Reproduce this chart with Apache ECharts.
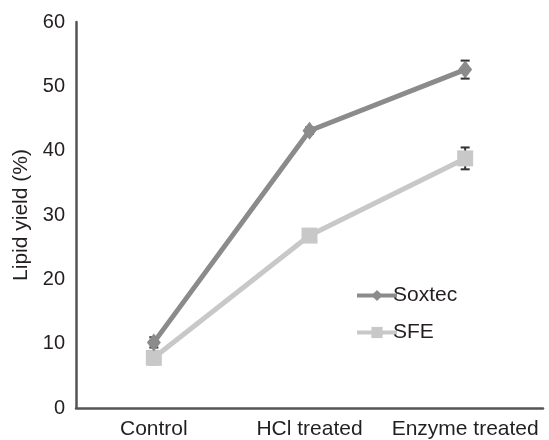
<!DOCTYPE html>
<html>
<head>
<meta charset="utf-8">
<script src="https://cdn.jsdelivr.net/npm/echarts@6/dist/echarts.min.js"></script>
<style>
  html, body { margin: 0; padding: 0; background: #ffffff; }
  #chart { width: 549px; height: 440px; }
</style>
</head>
<body>
<div id="chart"></div>
<script>
// Treatments along the x axis
const categories = ['Control', 'HCl treated', 'Enzyme treated'];
// Lipid yield (%) per extraction method, with error half-widths
const soxtec = [10.2, 43.1, 52.6];
const soxtecErr = [0.8, 0.5, 1.4];
const sfe = [7.8, 26.8, 38.8];
const sfeErr = [1.0, 0.8, 1.7];
const yTicks = [0, 10, 20, 30, 40, 50, 60];

const font = "'Liberation Sans', Arial, Helvetica, sans-serif";
const textColor = '#231f20';

function errData(vals, errs) { return vals.map((v, i) => [i, v - errs[i], v + errs[i]]); }

// Vertical error bar with short caps at both ends
function renderErr(params, api) {
  const x = api.value(0);
  const lo = api.coord([x, api.value(1)]);
  const hi = api.coord([x, api.value(2)]);
  const half = 4.5;
  const style = { stroke: '#333333', lineWidth: 2 };
  return {
    type: 'group',
    children: [
      { type: 'line', shape: { x1: lo[0], y1: lo[1], x2: hi[0], y2: hi[1] }, style: style },
      { type: 'line', shape: { x1: lo[0] - half, y1: lo[1], x2: lo[0] + half, y2: lo[1] }, style: style },
      { type: 'line', shape: { x1: hi[0] - half, y1: hi[1], x2: hi[0] + half, y2: hi[1] }, style: style }
    ]
  };
}

const chart = echarts.init(document.getElementById('chart'), null, { renderer: 'canvas' });
chart.setOption({
  animation: false,
  backgroundColor: '#ffffff',
  grid: { left: 76, right: 6, top: 22, bottom: 32, containLabel: false },
  legend: {
    orient: 'vertical',
    left: 350,
    top: 280,
    itemWidth: 40,
    itemHeight: 14,
    itemGap: 16,
    lineStyle: { width: 4 },
    textStyle: { fontFamily: font, fontSize: 21, color: textColor, padding: [0, 0, 0, -9] },
    data: ['Soxtec', 'SFE']
  },
  xAxis: {
    type: 'category',
    data: categories,
    boundaryGap: true,
    splitLine: { show: false },
    axisLine: { show: true, onZero: false, lineStyle: { color: '#555555', width: 2.5 } },
    axisTick: { show: false },
    axisLabel: {
      margin: 11,
      interval: 0,
      fontFamily: font,
      fontSize: 21,
      color: textColor
    }
  },
  yAxis: {
    type: 'value',
    min: 0,
    max: 60,
    interval: 10,
    name: 'Lipid yield (%)',
    nameLocation: 'middle',
    nameGap: 44,
    nameTextStyle: { fontFamily: font, fontSize: 21, color: textColor },
    splitLine: { show: false },
    axisLine: { show: true, onZero: false, lineStyle: { color: '#555555', width: 2.5 } },
    axisTick: { show: false },
    axisLabel: {
      margin: 11,
      fontFamily: font,
      fontSize: 20,
      color: textColor,
      formatter: function (v) { return yTicks.indexOf(v) >= 0 ? String(v) : ''; }
    }
  },
  series: [
    {
      type: 'custom',
      data: errData(sfe, sfeErr),
      renderItem: renderErr,
      encode: { x: 0, y: [1, 2] },
      z: 1
    },
    {
      type: 'custom',
      data: errData(soxtec, soxtecErr),
      renderItem: renderErr,
      encode: { x: 0, y: [1, 2] },
      z: 1
    },
    {
      name: 'SFE',
      type: 'line',
      data: sfe,
      symbol: 'rect',
      symbolSize: 16,
      lineStyle: { color: '#c8c8c8', width: 5 },
      itemStyle: { color: '#c8c8c8' },
      z: 2
    },
    {
      name: 'Soxtec',
      type: 'line',
      data: soxtec,
      symbol: 'diamond',
      symbolSize: [14, 18],
      lineStyle: { color: '#8b8b8b', width: 5 },
      itemStyle: { color: '#8b8b8b' },
      z: 3
    }
  ]
});
</script>
</body>
</html>
